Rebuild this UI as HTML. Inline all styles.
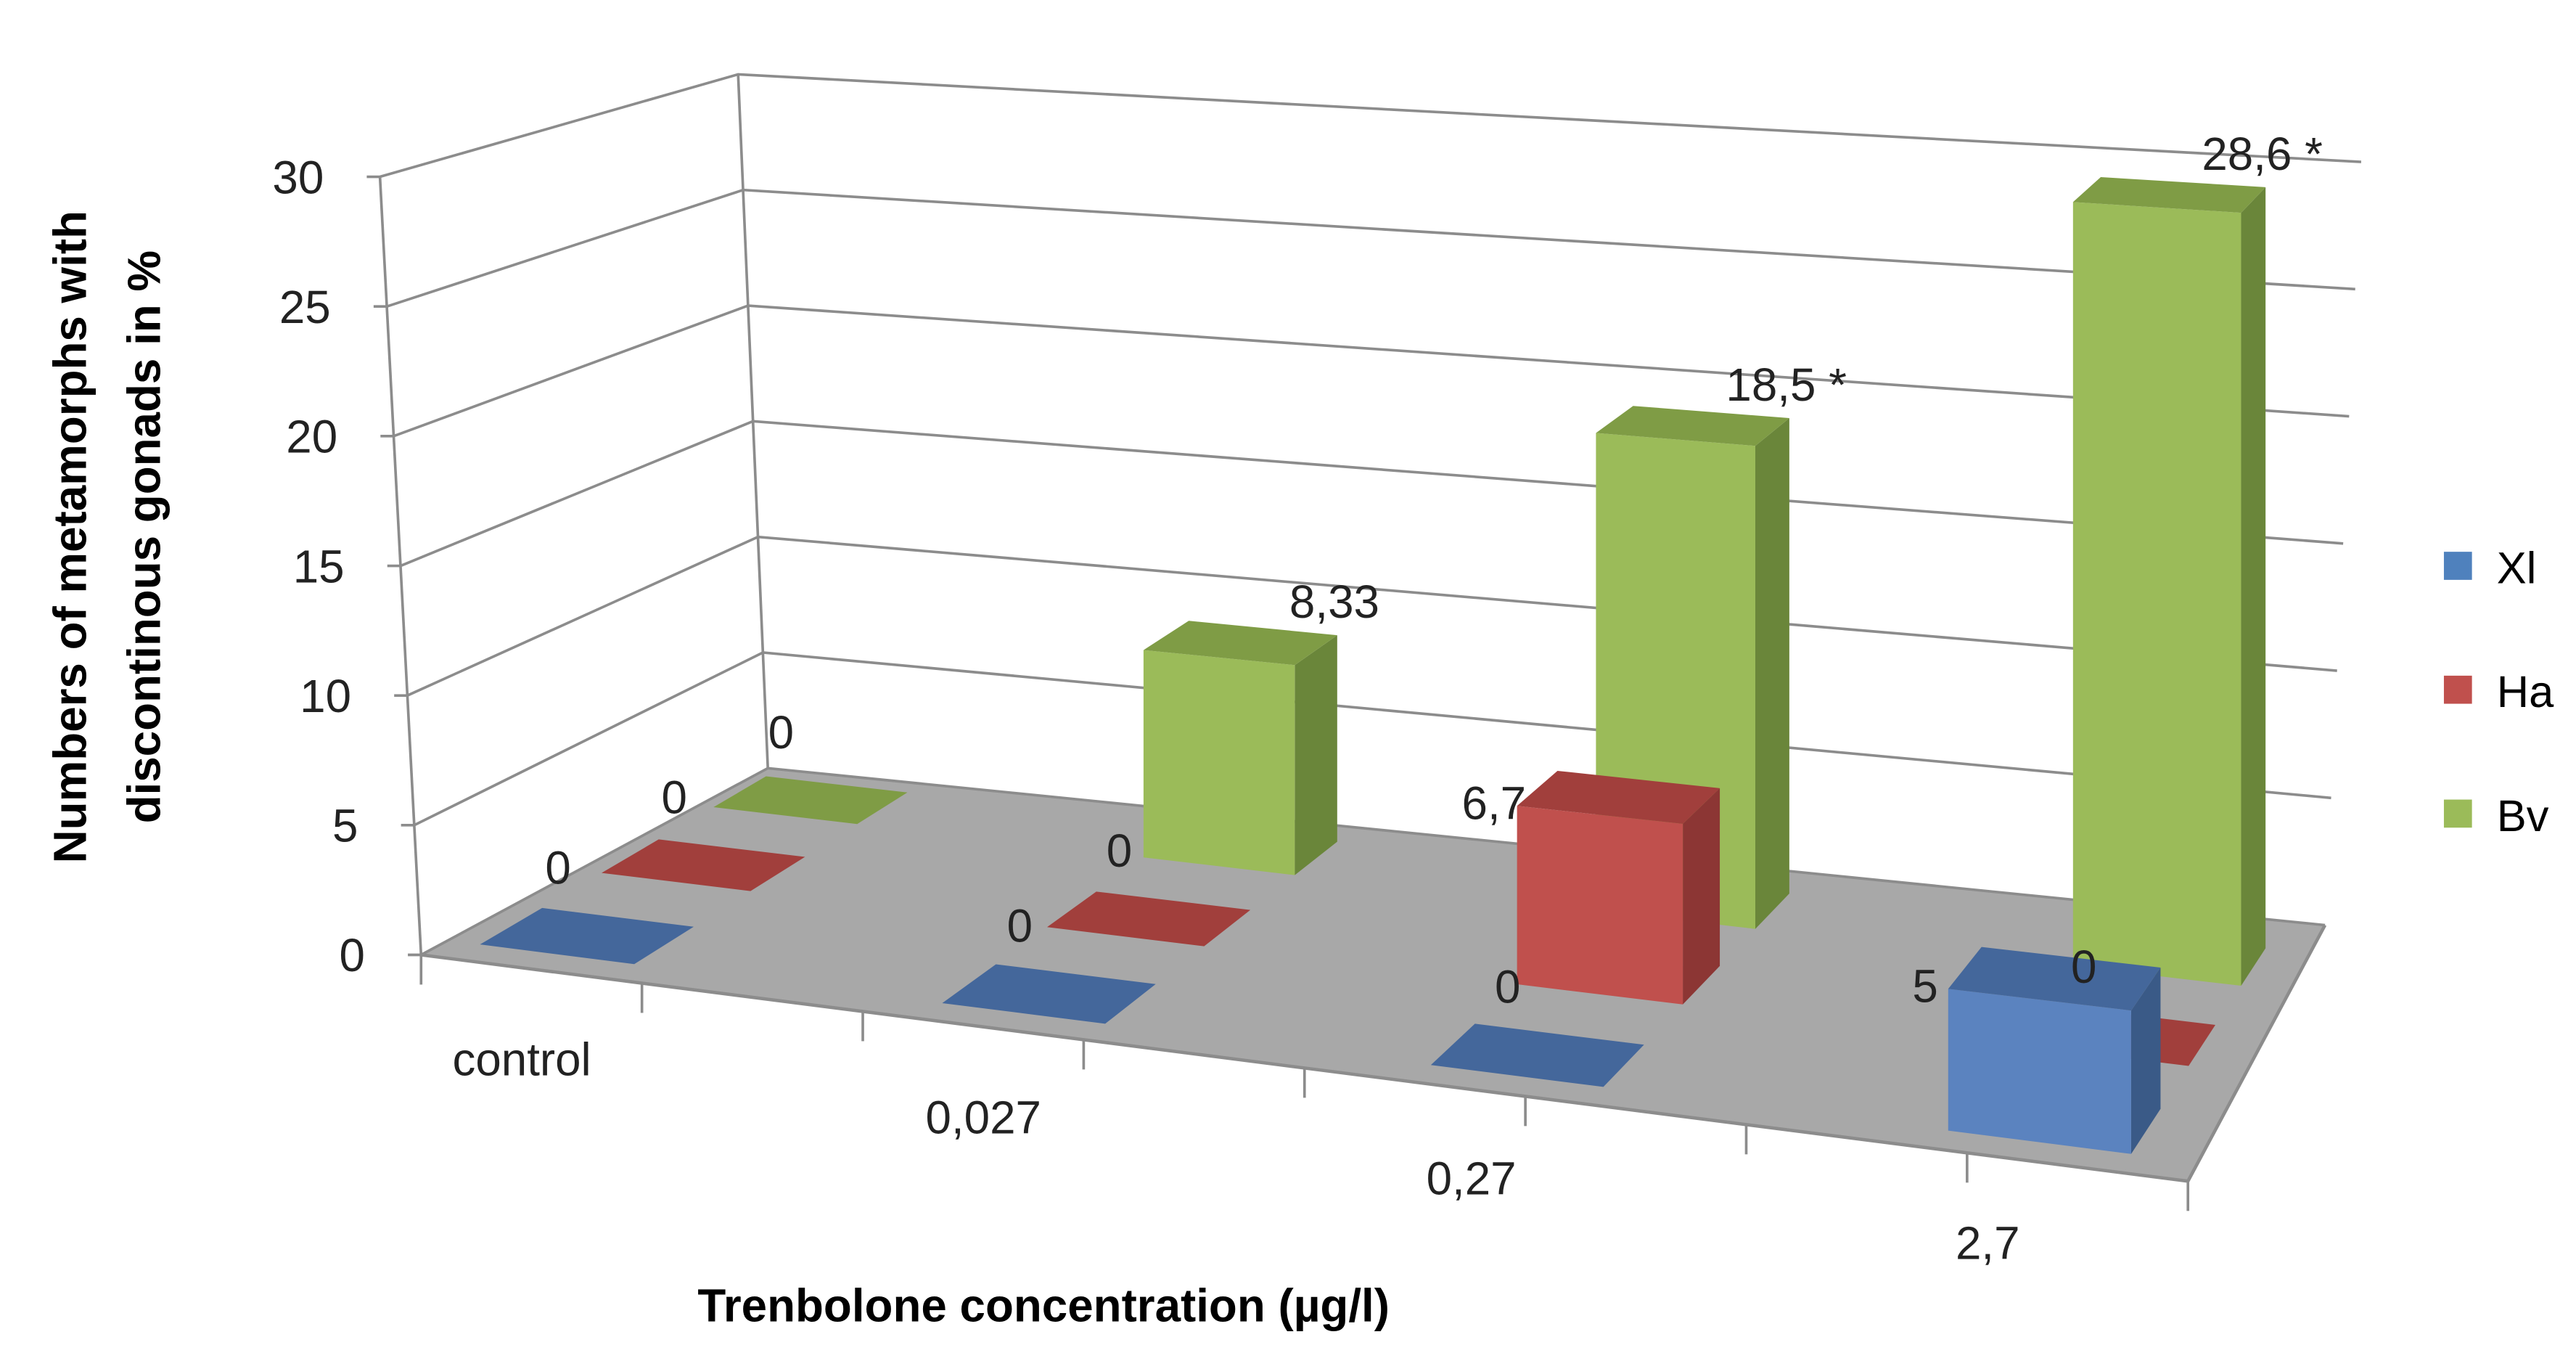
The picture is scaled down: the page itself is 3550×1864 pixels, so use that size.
<!DOCTYPE html>
<html><head><meta charset="utf-8"><style>
html,body{margin:0;padding:0;background:#fff}
svg{display:block}
text{font-family:"Liberation Sans",sans-serif}
</style></head><body>
<svg id="chart" width="3550" height="1864" viewBox="0 0 1560 819" preserveAspectRatio="none" xmlns="http://www.w3.org/2000/svg">
<rect width="1560" height="819" fill="#fff"/>
<g id="walls"></g>
<g id="bars"></g>
<g id="labels"></g>
<text font-weight="bold" font-size="28" text-anchor="middle" transform="translate(52,325) rotate(-90)">Numbers of metamorphs with</text>
<text font-weight="bold" font-size="28" text-anchor="middle" transform="translate(97,325) rotate(-90)">discontinous gonads in %</text>
<text font-weight="bold" font-size="28" text-anchor="middle" x="632" y="800">Trenbolone concentration (µg/l)</text>
<g>
<rect x="1480" y="334" width="17" height="17" fill="#4f81bd"/>
<text x="1512" y="353" font-size="27">Xl</text>
<rect x="1480" y="409" width="17" height="17" fill="#c0504d"/>
<text x="1512" y="428" font-size="27">Ha</text>
<rect x="1480" y="484" width="17" height="17" fill="#9bbb59"/>
<text x="1512" y="503" font-size="27">Bv</text>
</g>
</svg>
<script>
const categories = ["control","0,027","0,27","2,7"];
const seriesNames = ["Xl","Ha","Bv"];
const xlValues = [0,0,0,5];
const haValues = [0,0,6.7,0];
const bvValues = [0,8.33,18.5,28.6];
const xlLabels = ["0","0","0","5"];
const haLabels = ["0","0","6,7","0"];
const bvLabels = ["0","8,33","18,5 *","28,6 *"];
const yTicks = [0,5,10,15,20,25,30];

const NS="http://www.w3.org/2000/svg";
function solve(A,b){const n=b.length;for(let i=0;i<n;i++){let m=i;for(let r=i+1;r<n;r++)if(Math.abs(A[r][i])>Math.abs(A[m][i]))m=r;[A[i],A[m]]=[A[m],A[i]];[b[i],b[m]]=[b[m],b[i]];for(let r=i+1;r<n;r++){const f=A[r][i]/A[i][i];for(let c=i;c<n;c++)A[r][c]-=f*A[i][c];b[r]-=f*b[i];}}const x=new Array(n);for(let i=n-1;i>=0;i--){let s=b[i];for(let c=i+1;c<n;c++)s-=A[i][c]*x[c];x[i]=s/A[i][i];}return x;}
const src=[[0.5,0.5],[2.5,0.5],[0.5,2.5],[3.5,2.5]], dst=[[358,565],[933,637],[493,483],[1315,578]];
const A=[],B=[];
src.forEach((s,i)=>{const[u,w]=s,[x,y]=dst[i];A.push([u,w,1,0,0,0,-u*x,-w*x]);B.push(x);A.push([0,0,0,u,w,1,-u*y,-w*y]);B.push(y);});
const H=solve(A,B);
function P(u,w){const d=H[6]*u+H[7]*w+1;return[(H[0]*u+H[1]*w+H[2])/d,(H[3]*u+H[4]*w+H[5])/d];}
function hs(u,w){return 14.2+0.55*u-0.5*(w-2.5);}
function Q(u,w,v){const p=P(u,w);return[p[0],p[1]-v*hs(u,w)];}
const pts=a=>a.map(p=>p[0].toFixed(1)+","+p[1].toFixed(1)).join(" ");
function mk(tag,attrs,parent){const e=document.createElementNS(NS,tag);for(const k in attrs)e.setAttribute(k,attrs[k]);parent.appendChild(e);return e;}
const walls=document.getElementById("walls"),bars=document.getElementById("bars"),labels=document.getElementById("labels");

const FL=[255,578,15.7,-0.83], FR=[1325,715], BL=[465,465,14,-0.6], BR=[1408,560,15.4,0.73];
const W=(c,v)=>[c[0]+v*c[3],c[1]-v*c[2]];
const floor=mk("polygon",{points:pts([FL,FR,BR,BL]),fill:"#a8a8a8"},walls);


yTicks.forEach(v=>{
  const g=mk("polyline",{points:pts([W(FL,v),W(BL,v),W(BR,v)]),fill:"none",stroke:"#8c8c8c","stroke-width":1.6},walls);
  
  
  const p=W(FL,v);
  mk("line",{x1:p[0]-8,y1:p[1],x2:p[0],y2:p[1],stroke:"#8c8c8c","stroke-width":1.6},walls);
  const t=mk("text",{x:p[0]-34,y:p[1]+10,"font-size":28,"text-anchor":"end",fill:"#222"},walls);
  t.textContent=v;
  
  
});
[[W(FL,0),W(FL,30)],[W(BL,0),W(BL,30)]].forEach(l=>mk("line",{x1:l[0][0],y1:l[0][1],x2:l[1][0],y2:l[1][1],stroke:"#8c8c8c","stroke-width":1.6},walls));
mk("polyline",{points:pts([FL,FR,BR]),fill:"none",stroke:"#8c8c8c","stroke-width":2},walls);
for(let k=0;k<=8;k++){const f=k/8;const x=FL[0]+f*(FR[0]-FL[0]),y=FL[1]+f*(FR[1]-FL[1]);mk("line",{x1:x,y1:y,x2:x,y2:y+18,stroke:"#8c8c8c","stroke-width":1.6},walls);}
categories.forEach((c,i)=>{
  const p=P(i+0.5,0.5);
  const t=mk("text",{x:p[0]-42,y:p[1]+86,"font-size":28,"text-anchor":"middle",fill:"#222"},labels);
  t.textContent=c;
  
  
});

const series=[xlValues,haValues,bvValues];
const slabels=[xlLabels,haLabels,bvLabels];
const colors=[["#5b83bf","#44679b","#3a5a87"],["#c0504d","#a13f3c","#8c3634"],["#9bbb59","#7f9c45","#6a863a"]];
for(let s=2;s>=0;s--){
  categories.forEach((c,i)=>{
    const v=series[s][i];
    const u0=i+0.33,u1=i+0.67,w0=s+0.22,w1=s+0.72;
    const g=mk("g",{},bars);
    
    
    if(v>0){
      mk("polygon",{points:pts([P(u1,w0),P(u1,w1),Q(u1,w1,v),Q(u1,w0,v)]),fill:colors[s][2]},g);
      mk("polygon",{points:pts([P(u0,w0),P(u1,w0),Q(u1,w0,v),Q(u0,w0,v)]),fill:colors[s][0]},g);
    }
    mk("polygon",{points:pts([Q(u0,w0,v),Q(u1,w0,v),Q(u1,w1,v),Q(u0,w1,v)]),fill:colors[s][1]},g);
    const top=Q(i+0.5,s+0.5,v);
    let dx=s===2&&v>0?55:-20, dy=s===2&&v>0?-14:-30;
    if(s<2&&v>0){const p=Q(u0,w0,v);dx=p[0]-top[0]-14;dy=p[1]-top[1]+8;}
    const t=mk("text",{x:top[0]+dx,y:top[1]+dy,"font-size":28,"text-anchor":"middle",fill:"#222"},labels);
    t.textContent=slabels[s][i];
    
    
  });
}
</script>
</body></html>
